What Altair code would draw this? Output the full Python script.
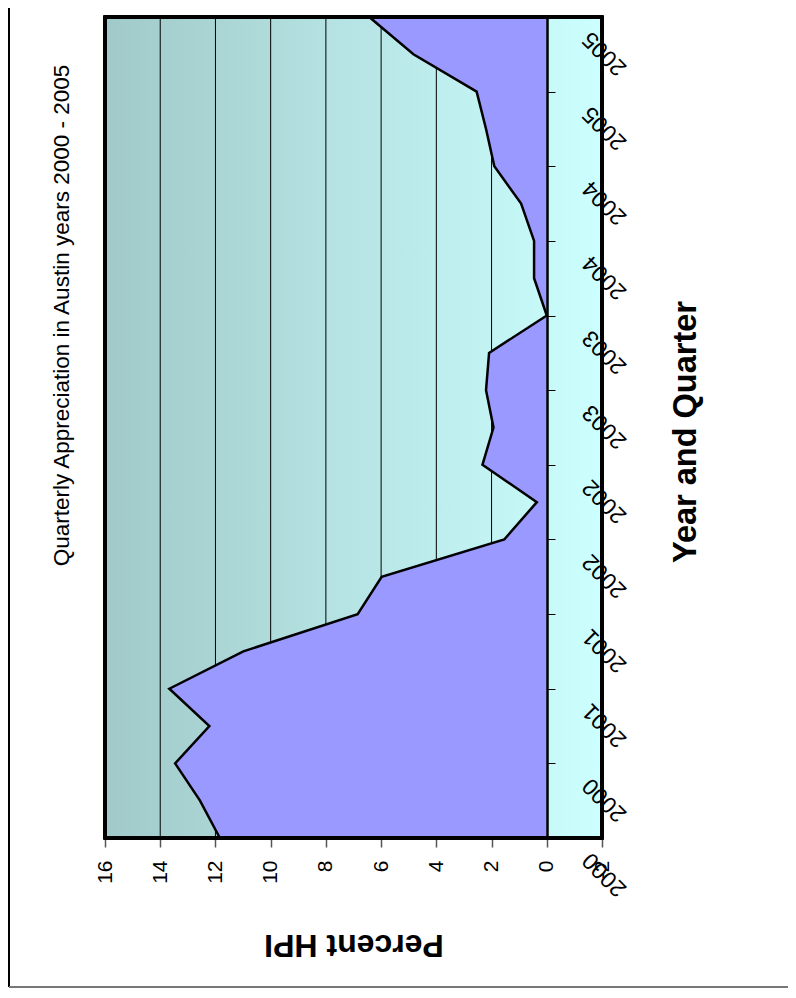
import altair as alt
import pandas as pd

# ---- data ----
quarter_index = list(range(23))  # 2000 Q1 .. 2005 Q3
year_labels = ["2000", "2000", "2000", "2000",
               "2001", "2001", "2001", "2001",
               "2002", "2002", "2002", "2002",
               "2003", "2003", "2003", "2003",
               "2004", "2004", "2004", "2004",
               "2005", "2005", "2005"]
hpi = [11.84, 12.56, 13.46, 12.22, 13.67, 10.99, 6.85, 5.98,
       1.54, 0.36, 2.33, 1.93, 2.20, 2.09, 0.00, 0.46,
       0.46, 0.93, 1.90, 2.20, 2.54, 4.83, 6.43]
value_ticks = [-2, 0, 2, 4, 6, 8, 10, 12, 14, 16]
grid_values = [2, 4, 6, 8, 10, 12, 14]
value_domain = [-2, 16]

TITLE = "Quarterly Appreciation in Austin years 2000 - 2005"

df = pd.DataFrame({"q": quarter_index, "hpi": hpi, "label": year_labels})
df["base"] = 0
grid_df = pd.DataFrame({"g": grid_values})

W, H = 497, 821
FONT = "Liberation Sans, Arial, Helvetica, sans-serif"

labels_js = "[" + ",".join("'%s'" % y for y in year_labels) + "]"

xscale = alt.Scale(domain=value_domain, reverse=True, nice=False, zero=False)
yscale = alt.Scale(domain=[quarter_index[0], quarter_index[-1]], nice=False, zero=False)

x_axis = alt.Axis(
    values=value_ticks, labelExpr="'' + datum.value",
    labelAngle=270, labelAlign="right", labelBaseline="middle",
    labelFont=FONT, labelFontSize=21, labelColor="black", labelPadding=13,
    tickSize=9, tickColor="#555", tickWidth=1.5,
    domain=False, grid=False,
    title="Percent HPI", titleAngle=180, titleFont=FONT, titleFontSize=32,
    titleFontWeight="bold", titleColor="black",
    titleX=W / 2, titleY=96, titleAlign="center", titleBaseline="alphabetic",
)
y_axis = alt.Axis(
    orient="right", offset=-55, values=quarter_index,
    labelExpr="datum.value %% 2 == 0 ? %s[datum.value] : ''" % labels_js,
    labelAngle=225, labelAlign="right", labelBaseline="middle",
    labelOffset=18, labelPadding=31, labelFont=FONT, labelFontSize=23,
    labelColor="black", labelOverlap=False,
    tickSize=8, tickColor="black", tickWidth=1,
    domainColor="black", domainWidth=2.5, grid=False, zindex=1,
    title="Year and Quarter", titleAngle=270, titleFont=FONT, titleFontSize=32.5,
    titleFontWeight="bold", titleColor="black",
    titleX=148, titleY=H / 2 + 4, titleAlign="center", titleBaseline="alphabetic",
)

base = alt.Chart(df)

background = base.mark_rect(
    fill={"gradient": "linear", "x1": 0, "y1": 0, "x2": 1, "y2": 0,
          "stops": [{"offset": 0, "color": "#A1C9C9"},
                    {"offset": 1, "color": "#CCFFFF"}]}
).encode(
    x=alt.datum(value_domain[1], scale=xscale, axis=x_axis, type="quantitative"),
    x2=alt.datum(value_domain[0]),
    y=alt.datum(quarter_index[0], scale=yscale, axis=y_axis, type="quantitative"),
    y2=alt.datum(quarter_index[-1]),
)

grid = alt.Chart(grid_df).mark_rule(color="black", strokeWidth=1).encode(
    x=alt.X("g:Q", scale=xscale, axis=x_axis),
)

area = base.mark_area(orient="horizontal", fill="#9999FF", fillOpacity=1,
                      strokeWidth=0).encode(
    x=alt.X("hpi:Q", scale=xscale, axis=x_axis, stack=None),
    x2=alt.X2("base:Q"),
    y=alt.Y("q:Q", scale=yscale, axis=y_axis),
)

line = base.mark_line(orient="horizontal", color="black", strokeWidth=2.5,
                      strokeJoin="miter").encode(
    x=alt.X("hpi:Q", scale=xscale, axis=x_axis),
    y=alt.Y("q:Q", scale=yscale, axis=y_axis),
    order=alt.Order("q:Q"),
)

border = base.mark_rect(filled=False, stroke="black", strokeWidth=2.5).encode(
    x=alt.datum(value_domain[1]),
    x2=alt.datum(value_domain[0]),
    y=alt.datum(quarter_index[0]),
    y2=alt.datum(quarter_index[-1]),
)

# chart-area frame (decoration of the original picture)
frame_left = alt.Chart().mark_rule(color="black", strokeWidth=2).encode(
    x=alt.value(-96), y=alt.value(-9), y2=alt.value(970))
frame_bottom = alt.Chart().mark_rule(color="#777", strokeWidth=2).encode(
    x=alt.value(-96), x2=alt.value(683), y=alt.value(970))

chart = alt.layer(background, grid, area, line, border,
                  frame_left, frame_bottom).properties(
    width=W, height=H,
    title=alt.Title(TITLE, orient="left", anchor="middle", font=FONT,
                    fontSize=22.5, fontWeight="normal", color="black",
                    offset=-65, dx=112),
    autosize=alt.AutoSizeParams(type="none"),
    padding={"left": 97, "top": 9, "right": 186, "bottom": 150},
).configure_view(stroke=None)

chart.save("out.html", embed_options={"renderer": "svg", "actions": False})
